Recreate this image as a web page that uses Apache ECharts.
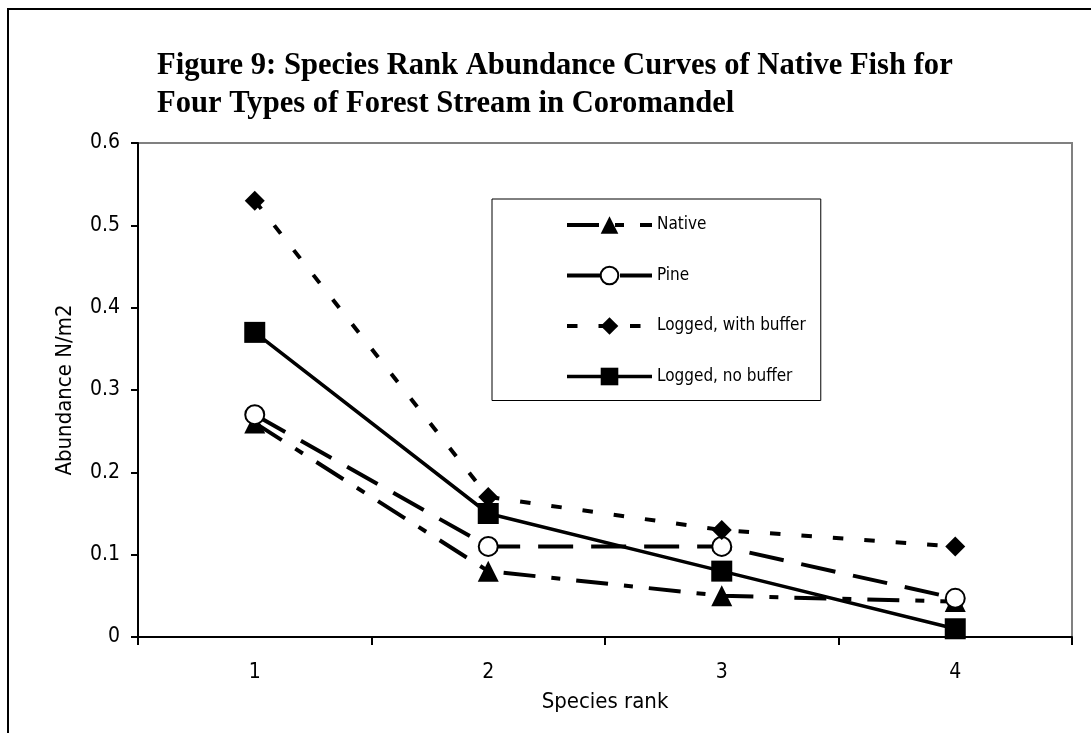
<!DOCTYPE html>
<html>
<head>
<meta charset="utf-8">
<title>Species Rank Abundance Curves</title>
<script src="https://cdn.jsdelivr.net/npm/echarts@6/dist/echarts.min.js"></script>
<style>
  html, body { margin: 0; padding: 0; background: #fff; }
  #chart { width: 1091px; height: 733px; }
</style>
</head>
<body>
<div id="chart"></div>
<script>
// Species rank on the x axis
const ranks = ['1', '2', '3', '4'];

// Abundance (N/m2) per stream type, by species rank
const nativeForest = [0.26, 0.08, 0.05, 0.043];
const pineForest = [0.27, 0.11, 0.11, 0.047];
const loggedWithBuffer = [0.53, 0.17, 0.13, 0.11];
const loggedNoBuffer = [0.37, 0.15, 0.08, 0.01];

// Series names as shown in the legend
const seriesNames = ['Native', 'Pine', 'Logged, with buffer', 'Logged, no buffer'];

const narrowFont = "'Liberation Sans Narrow', 'Arial Narrow', 'DejaVu Sans Condensed', sans-serif";
const ink = '#000';

const chart = echarts.init(document.getElementById('chart'), null, { renderer: 'canvas' });

chart.setOption({
  animation: false,
  backgroundColor: '#fff',
  graphic: [{
    // outer frame of the figure
    type: 'rect',
    x: 8,
    y: 9,
    shape: { x: 0, y: 0, width: 1200, height: 900 },
    style: { fill: 'none', stroke: ink, lineWidth: 2 },
    z: -10,
    silent: true
  }],
  title: {
    text: 'Figure 9: Species Rank Abundance Curves of Native Fish for\nFour Types of Forest Stream in Coromandel',
    left: 157,
    top: 47,
    padding: 0,
    textStyle: {
      fontFamily: "'Liberation Serif', 'Times New Roman', serif",
      fontWeight: 'bold',
      fontSize: 30.6,
      lineHeight: 38,
      color: ink
    }
  },
  grid: {
    left: 138,
    top: 143,
    right: 19,
    bottom: 96,
    show: true,
    borderColor: '#808080',
    borderWidth: 2,
    backgroundColor: 'transparent'
  },
  legend: {
    orient: 'vertical',
    left: 492,
    top: 199,
    itemWidth: 85,
    itemHeight: 22,
    itemGap: 28.5,
    itemTextGap: 3,
    padding: [15, 15, 13, 73],
    borderColor: ink,
    borderWidth: 1,
    backgroundColor: '#fff',
    data: seriesNames,
    lineStyle: { width: 'inherit' },
    textStyle: { fontFamily: narrowFont, fontSize: 17, color: ink, lineHeight: 22 }
  },
  xAxis: {
    type: 'category',
    data: ranks,
    boundaryGap: true,
    name: 'Species rank',
    nameLocation: 'middle',
    nameGap: 54,
    nameTextStyle: { fontFamily: narrowFont, fontSize: 22, color: ink },
    axisLine: { lineStyle: { color: ink, width: 2 } },
    axisTick: { show: true, alignWithLabel: false, length: 8, lineStyle: { color: ink, width: 2 } },
    axisLabel: { margin: 25, fontFamily: narrowFont, fontSize: 21, color: ink },
    splitLine: { show: false }
  },
  yAxis: {
    type: 'value',
    min: 0,
    max: 0.6,
    interval: 0.1,
    name: 'Abundance N/m2',
    nameLocation: 'middle',
    nameGap: 62,
    nameRotate: 90,
    nameTextStyle: { fontFamily: narrowFont, fontSize: 22, color: ink },
    axisLine: { show: true, lineStyle: { color: ink, width: 2 } },
    axisTick: { show: true, length: 7, lineStyle: { color: ink, width: 2 } },
    axisLabel: { margin: 18, fontFamily: narrowFont, fontSize: 21, color: ink },
    splitLine: { show: false }
  },
  series: [
    {
      name: seriesNames[0],
      type: 'line',
      data: nativeForest,
      symbol: 'triangle',
      symbolSize: 21,
      itemStyle: { color: ink },
      lineStyle: { color: ink, width: 4, type: [32, 16, 9, 16], cap: 'butt' },
      z: 3
    },
    {
      name: seriesNames[1],
      type: 'line',
      data: pineForest,
      symbol: 'emptyCircle',
      symbolSize: 19,
      itemStyle: { color: ink, borderWidth: 2 },
      lineStyle: { color: ink, width: 4, type: [35, 18], cap: 'butt' },
      z: 4
    },
    {
      name: seriesNames[2],
      type: 'line',
      data: loggedWithBuffer,
      symbol: 'diamond',
      symbolSize: 20,
      itemStyle: { color: ink },
      lineStyle: { color: ink, width: 4, type: [10.5, 21], cap: 'butt' },
      z: 5
    },
    {
      name: seriesNames[3],
      type: 'line',
      data: loggedNoBuffer,
      symbol: 'rect',
      symbolSize: 21,
      itemStyle: { color: ink },
      lineStyle: { color: ink, width: 3.5, type: 'solid' },
      z: 6
    }
  ]
});
</script>
</body>
</html>
